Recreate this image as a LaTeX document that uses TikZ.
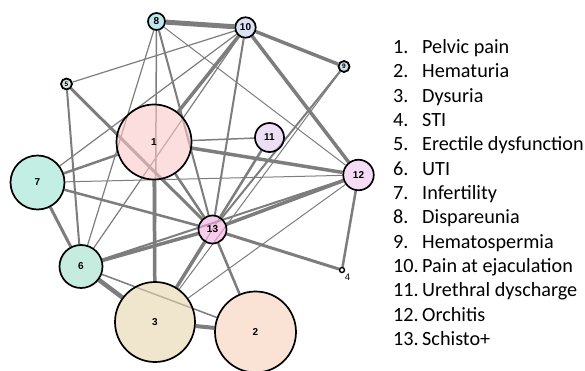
\documentclass[tikz,border=0pt]{standalone}
\usepackage{fontspec}
\setmainfont{Carlito}
\newfontfamily\lblfont{Liberation Sans}
\newfontfamily\legfont{Carlito}
\usetikzlibrary{backgrounds}
\definecolor{edgegray}{RGB}{125,125,125}
\definecolor{c1}{RGB}{252,200,200}
\definecolor{c2}{RGB}{247,208,185}
\definecolor{c3}{RGB}{230,213,172}
\definecolor{c5}{RGB}{190,215,200}
\definecolor{c6}{RGB}{159,223,200}
\definecolor{c7}{RGB}{155,227,210}
\definecolor{c8}{RGB}{147,213,227}
\definecolor{c9}{RGB}{170,200,220}
\definecolor{c10}{RGB}{197,205,238}
\definecolor{c11}{RGB}{222,200,238}
\definecolor{c12}{RGB}{238,197,238}
\definecolor{c13}{RGB}{243,172,222}
\begin{document}
\begin{tikzpicture}[x=1pt,y=-1pt,
  vtx/.style={circle,draw=black,line width=1.7pt,inner sep=0pt,fill opacity=0.6,text opacity=1,
    font=\lblfont\bfseries\fontsize{10}{10}\selectfont},
  tiny/.style={circle,draw=black,line width=1.8pt,inner sep=0pt,fill opacity=0.6,text opacity=1,
    font=\lblfont\bfseries\fontsize{6.5}{6.5}\selectfont},
  lnk/.style={draw=edgegray,line width=#1},
  legnum/.style={anchor=base west,inner sep=0pt,font=\legfont\fontsize{20.2}{24}\selectfont},
  legtxt/.style={anchor=base west,inner sep=0pt,font=\legfont\fontsize{20.2}{24}\selectfont},
]
\useasboundingbox (0,0) rectangle (585,371);

% vertices
\node[vtx,minimum size=75pt,fill=c1] (n1) at (154,142) {1};
\node[vtx,minimum size=81pt,fill=c2] (n2) at (255.5,332) {2};
\node[vtx,minimum size=80pt,fill=c3] (n3) at (155,322) {3};
\node[circle,draw=black,line width=1.4pt,inner sep=0pt,minimum size=5pt] (n4) at (342,270) {};
\node[inner sep=0pt,font=\lblfont\fontsize{9.5}{9.5}\selectfont] (lab4) at (347.5,277) {4};
\node[tiny,minimum size=11pt,fill=c5] (n5) at (66.5,84) {5};
\node[vtx,minimum size=43pt,fill=c6] (n6) at (81,266.5) {6};
\node[vtx,minimum size=54pt,fill=c7] (n7) at (37.5,182.5) {7};
\node[vtx,minimum size=17pt,fill=c8] (n8) at (156.5,21.5) {8};
\node[tiny,minimum size=11pt,fill=c9] (n9) at (344,66.5) {9};
\node[vtx,minimum size=20.5pt,fill=c10] (n10) at (245.5,27.5) {10};
\node[vtx,minimum size=29pt,fill=c11] (n11) at (269.5,137.5) {11};
\node[vtx,minimum size=30.5pt,fill=c12] (n12) at (358.5,175) {12};
\node[vtx,minimum size=28pt,fill=c13] (n13) at (212.5,229.5) {13};

% edges
\begin{pgfonlayer}{background}
\draw[lnk=5] (n8) -- (n10);
\draw[lnk=3.5] (n10) -- (n9);
\draw[lnk=3.5] (n10) -- (n12);
\draw[lnk=3.5] (n10) -- (n1);
\draw[lnk=1.2] (n10) -- (n5);
\draw[lnk=1.2] (n10) -- (n7);
\draw[lnk=1.2] (n10) -- (n6);
\draw[lnk=2] (n10) -- (n13);
\draw[lnk=1.5] (n8) -- (n3);
\draw[lnk=1.2] (n8) -- (n6);
\draw[lnk=2] (n8) -- (n13);
\draw[lnk=1] (n8) -- (n12);
\draw[lnk=2] (n5) -- (n6);
\draw[lnk=3] (n5) -- (n13);
\draw[lnk=2.5] (n7) -- (n1);
\draw[lnk=1] (n7) -- (n12);
\draw[lnk=2.5] (n7) -- (n13);
\draw[lnk=3] (n7) -- (n6);
\draw[lnk=1.5] (n1) -- (n11);
\draw[lnk=3.5] (n1) -- (n12);
\draw[lnk=2.5] (n1) -- (n13);
\draw[lnk=3.5] (n1) -- (n3);
\draw[lnk=2.5] (n11) -- (n13);
\draw[lnk=1] (n11) -- (n3);
\draw[lnk=2] (n9) -- (n13);
\draw[lnk=1] (n9) -- (n3);
\draw[lnk=3.5] (n12) -- (n13);
\draw[lnk=2] (n12) -- (n6);
\draw[lnk=1] (n12) -- (n3);
\draw[lnk=2.5] (n12) -- (n4);
\draw[lnk=3] (n13) -- (n4);
\draw[lnk=3.5] (n13) -- (n6);
\draw[lnk=3.5] (n13) -- (n3);
\draw[lnk=2.5] (n13) -- (n2);
\draw[lnk=4.5] (n6) -- (n3);
\draw[lnk=1.5] (n6) -- (n2);
\draw[lnk=4] (n3) -- (n2);
\end{pgfonlayer}

% legend
\foreach \i/\t [count=\k from 0] in {1/Pelvic pain,2/Hematuria,3/Dysuria,4/STI,5/Erectile dysfunction,6/UTI,7/Infertility,8/Dispareunia,9/Hematospermia,10/Pain at ejaculation,11/Urethral dyscharge,12/Orchitis,13/Schisto+}{
  \node[legnum] (num\i) at (393,53.5+24.33*\k) {\i.};
  \node[legtxt] (txt\i) at (422,53.5+24.33*\k) {\t};
}
\end{tikzpicture}
\end{document}
